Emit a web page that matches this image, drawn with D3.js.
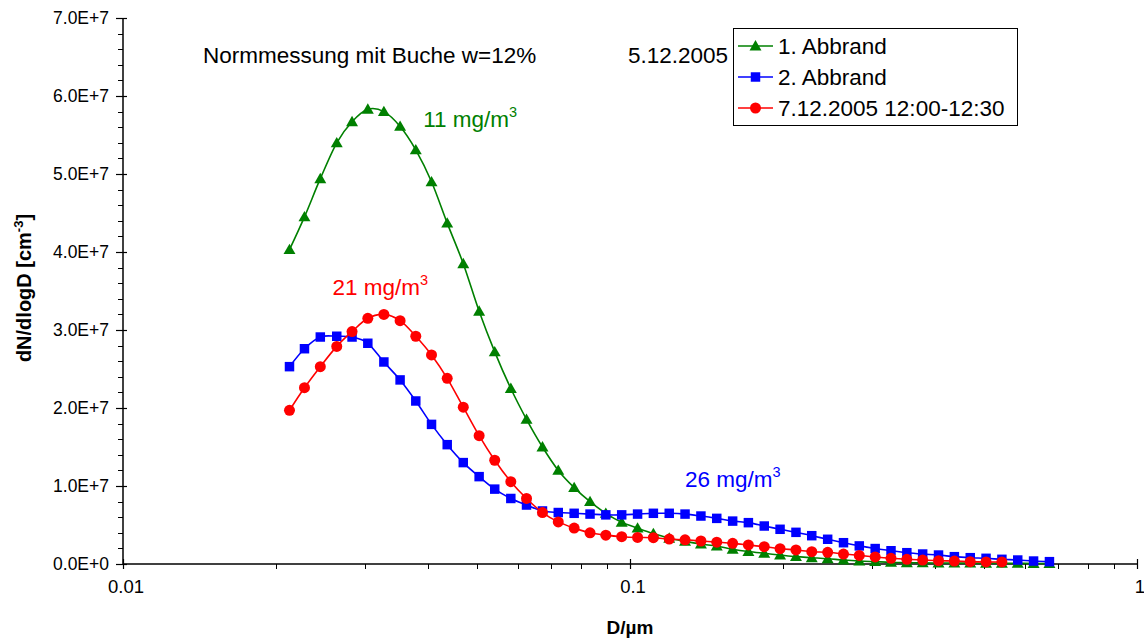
<!DOCTYPE html>
<html>
<head>
<meta charset="utf-8">
<script src="https://cdn.jsdelivr.net/npm/d3@7"></script>
<style>
  html, body { margin: 0; padding: 0; background: #fff; }
  svg { display: block; font-family: "Liberation Sans", Arial, sans-serif; }
</style>
</head>
<body>
<svg id="chart" width="1144" height="639"></svg>
<script>
// Particle diameters D in µm (SMPS channel midpoints)
const diameters = [
  0.0213, 0.0228, 0.0245, 0.0264, 0.0283, 0.0304, 0.0327, 0.0352, 0.0378, 0.0406,
  0.0436, 0.0469, 0.0504, 0.0541, 0.0582, 0.0625, 0.0672, 0.0722, 0.0776, 0.0834,
  0.0896, 0.0963, 0.1035, 0.1112, 0.1195, 0.1284, 0.1380, 0.1483, 0.1594, 0.1712,
  0.1840, 0.1977, 0.2125, 0.2283, 0.2454, 0.2637, 0.2833, 0.3045, 0.3272, 0.3516,
  0.3778, 0.4060, 0.4363, 0.4689, 0.5038, 0.5414, 0.5818, 0.6252, 0.6719
];

// dN/dlogD values in units of 1E7 cm^-3
const abbrand1 = [
  4.03, 4.45, 4.94, 5.40, 5.67, 5.83, 5.80, 5.61, 5.31, 4.90,
  4.37, 3.85, 3.24, 2.72, 2.25, 1.855, 1.50, 1.20, 0.98, 0.80,
  0.65, 0.535, 0.46, 0.39, 0.33, 0.29, 0.256, 0.23, 0.19, 0.16,
  0.137, 0.115, 0.094, 0.081, 0.068, 0.051, 0.038, 0.030, 0.022, 0.017,
  0.015, 0.013, 0.012, 0.011, 0.010, 0.009, 0.008, 0.007, 0.006
];
const abbrand2 = [
  2.53, 2.76, 2.91, 2.92, 2.91, 2.83, 2.59, 2.36, 2.09, 1.79,
  1.53, 1.30, 1.12, 0.96, 0.84, 0.756, 0.68, 0.66, 0.65, 0.64,
  0.63, 0.63, 0.64, 0.65, 0.65, 0.64, 0.615, 0.585, 0.55, 0.53,
  0.487, 0.445, 0.406, 0.363, 0.317, 0.273, 0.232, 0.198, 0.17, 0.145,
  0.128, 0.115, 0.094, 0.081, 0.073, 0.060, 0.051, 0.038, 0.030
];
const messung0712 = [
  1.97, 2.26, 2.53, 2.79, 2.98, 3.15, 3.20, 3.12, 2.92, 2.68,
  2.38, 2.01, 1.645, 1.33, 1.055, 0.84, 0.66, 0.54, 0.46, 0.40,
  0.37, 0.35, 0.34, 0.337, 0.32, 0.31, 0.295, 0.28, 0.265, 0.244,
  0.222, 0.196, 0.18, 0.158, 0.15, 0.128, 0.11, 0.09, 0.073, 0.06,
  0.051, 0.042, 0.038, 0.030, 0.026, 0.026
];

const seriesNames = ["1. Abbrand", "2. Abbrand", "7.12.2005 12:00-12:30"];
const seriesColors = ["#008000", "#0000ff", "#ff0000"];
const seriesMarkers = ["triangle", "square", "circle"];

const xTickValues = [0.01, 0.1, 1];
const xTickLabels = ["0.01", "0.1", "1"];
const yTickValues = [0, 1e7, 2e7, 3e7, 4e7, 5e7, 6e7, 7e7];

const annotations = [
  { text: "11 mg/m", sup: "3", d: 0.0391, v: 5.6e7, color: "#008000" },
  { text: "21 mg/m", sup: "3", d: 0.0259, v: 3.45e7, color: "#ff0000" },
  { text: "26 mg/m", sup: "3", d: 0.1284, v: 0.99e7, color: "#0000ff" }
];

const unit = 1e7;
const series = [abbrand1, abbrand2, messung0712].map((vals, i) => ({
  name: seriesNames[i],
  color: seriesColors[i],
  marker: seriesMarkers[i],
  points: vals.map((v, j) => ({ d: diameters[j], v: v * unit }))
}));

const svg = d3.select("#chart");
svg.append("rect").attr("width", 1144).attr("height", 639).attr("fill", "#fff");

const plot = { left: 123, right: 1137, top: 18, bottom: 564 };

const x = d3.scaleLog().domain([0.01, 1]).range([plot.left, plot.right]);
const y = d3.scaleLinear().domain([0, 7e7]).range([plot.bottom, plot.top]);

const fmtSci = v => {
  if (v === 0) return "0.0E+0";
  const e = Math.floor(Math.log10(v));
  return (v / Math.pow(10, e)).toFixed(1) + "E+" + e;
};

// ---- Y axis ----
const yAxisG = svg.append("g");
yAxisG.append("line")
  .attr("x1", plot.left).attr("x2", plot.left)
  .attr("y1", plot.top).attr("y2", plot.bottom)
  .attr("stroke", "#000").attr("stroke-width", 1.5);
const yMinor = d3.range(0, 7e7 + 1, 2e6).filter(v => v % 1e7 !== 0);
yAxisG.selectAll("line.minor").data(yMinor).join("line")
  .attr("class", "minor")
  .attr("x1", plot.left - 5).attr("x2", plot.left)
  .attr("y1", d => Math.round(y(d)) + 0.5).attr("y2", d => Math.round(y(d)) + 0.5)
  .attr("stroke", "#000").attr("stroke-width", 1);
yAxisG.selectAll("line.major").data(yTickValues).join("line")
  .attr("class", "major")
  .attr("x1", plot.left - 7).attr("x2", plot.left + 4)
  .attr("y1", d => Math.round(y(d)) + 0.5).attr("y2", d => Math.round(y(d)) + 0.5)
  .attr("stroke", "#000").attr("stroke-width", 1.2);
yAxisG.selectAll("text").data(yTickValues).join("text")
  .attr("x", plot.left - 14).attr("y", d => y(d))
  .attr("dy", "0.35em")
  .attr("text-anchor", "end")
  .attr("font-size", 17.5)
  .attr("fill", "#000")
  .text(fmtSci);

// ---- X axis ----
const xAxisG = svg.append("g");
xAxisG.append("line")
  .attr("x1", plot.left).attr("x2", plot.right)
  .attr("y1", plot.bottom).attr("y2", plot.bottom)
  .attr("stroke", "#000").attr("stroke-width", 1.5);
const xMinor = [];
[0.01, 0.1].forEach(b => { for (let k = 2; k <= 9; k++) xMinor.push(b * k); });
xAxisG.selectAll("line.minor").data(xMinor).join("line")
  .attr("class", "minor")
  .attr("x1", d => Math.round(x(d)) + 0.5).attr("x2", d => Math.round(x(d)) + 0.5)
  .attr("y1", plot.bottom).attr("y2", plot.bottom + 5)
  .attr("stroke", "#000").attr("stroke-width", 1);
xAxisG.selectAll("line.major").data(xTickValues).join("line")
  .attr("class", "major")
  .attr("x1", d => Math.round(x(d)) + 0.5).attr("x2", d => Math.round(x(d)) + 0.5)
  .attr("y1", plot.bottom - 5).attr("y2", plot.bottom + 5)
  .attr("stroke", "#000").attr("stroke-width", 1.2);
xAxisG.selectAll("text").data(xTickValues).join("text")
  .attr("x", d => x(d) + 3).attr("y", plot.bottom + 29)
  .attr("text-anchor", "middle")
  .attr("font-size", 18.5)
  .attr("fill", "#000")
  .text((d, i) => xTickLabels[i]);

// ---- Axis titles ----
svg.append("text")
  .attr("x", x(0.1)).attr("y", 634)
  .attr("text-anchor", "middle")
  .attr("font-size", 19).attr("font-weight", "bold")
  .text("D/µm");

const yTitle = svg.append("text")
  .attr("transform", `translate(31, ${(plot.top + plot.bottom) / 2 - 3}) rotate(-90)`)
  .attr("text-anchor", "middle")
  .attr("font-size", 20).attr("font-weight", "bold");
yTitle.append("tspan").text("dN/dlogD [cm");
yTitle.append("tspan").attr("dy", -8).attr("font-size", 13).text("-3");
yTitle.append("tspan").attr("dy", 8).text("]");

// ---- Series ----
const line = d3.line()
  .x(p => x(p.d))
  .y(p => y(p.v))
  .curve(d3.curveCatmullRom.alpha(0));

const symbolFor = m => m === "triangle" ? d3.symbolTriangle : m === "square" ? d3.symbolSquare : d3.symbolCircle;
const symbolSize = m => m === "triangle" ? 62 : m === "square" ? 90 : 95;

series.forEach(s => {
  const g = svg.append("g");
  g.append("path")
    .attr("d", line(s.points))
    .attr("fill", "none")
    .attr("stroke", s.color)
    .attr("stroke-width", 1.6);
  g.selectAll("path.mark").data(s.points).join("path")
    .attr("class", "mark")
    .attr("transform", p => `translate(${x(p.d)},${y(p.v) + (s.marker === "triangle" ? 1 : 0)})`)
    .attr("d", d3.symbol().type(symbolFor(s.marker)).size(symbolSize(s.marker)))
    .attr("fill", s.color);
});

// ---- Text annotations ----
svg.append("text")
  .attr("x", 203).attr("y", 63)
  .attr("font-size", 22.5).attr("fill", "#000")
  .text("Normmessung mit Buche w=12%");
svg.append("text")
  .attr("x", 628).attr("y", 63)
  .attr("font-size", 22.5).attr("fill", "#000")
  .text("5.12.2005");

annotations.forEach(a => {
  const t = svg.append("text")
    .attr("x", x(a.d)).attr("y", y(a.v))
    .attr("font-size", 22.5).attr("fill", a.color);
  t.append("tspan").text(a.text);
  t.append("tspan").attr("dy", -10).attr("font-size", 14.5).text(a.sup);
});

// ---- Legend ----
const legend = svg.append("g");
legend.append("rect")
  .attr("x", 733.5).attr("y", 28.5).attr("width", 284).attr("height", 97)
  .attr("fill", "#fff").attr("stroke", "#000").attr("stroke-width", 1);
series.forEach((s, i) => {
  const cy = 46 + i * 31;
  legend.append("line")
    .attr("x1", 738).attr("x2", 773).attr("y1", cy).attr("y2", cy)
    .attr("stroke", s.color).attr("stroke-width", 1.6);
  legend.append("path")
    .attr("transform", `translate(755.5,${cy + (s.marker === "triangle" ? 1 : 0)})`)
    .attr("d", d3.symbol().type(symbolFor(s.marker)).size(symbolSize(s.marker)))
    .attr("fill", s.color);
  legend.append("text")
    .attr("x", 778).attr("y", cy).attr("dy", "0.35em")
    .attr("font-size", 22.5).attr("fill", "#000")
    .text(s.name);
});
</script>
</body>
</html>
